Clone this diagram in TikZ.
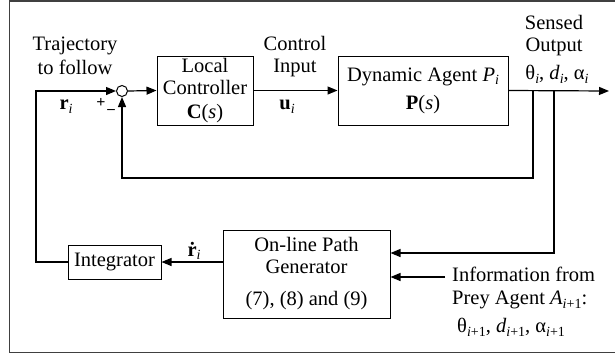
\documentclass[tikz,border=0pt]{standalone}
\usepackage{fontspec}
\setmainfont{Liberation Serif}
\usetikzlibrary{arrows.meta,calc}
\newcommand\sbs[1]{\raisebox{-0.4ex}{\fontsize{14}{14}\selectfont #1}}
\newcommand\sbi{\sbs{\textit{i}}}
\newcommand\sbip{\sbs{\textit{i}+1}}
\begin{document}
\begin{tikzpicture}[x=1pt,y=-1pt,
  txt/.style={font=\fontsize{20.5}{22}\selectfont, inner sep=0pt, align=center},
  blk/.style={txt, draw, line width=1pt},
  conn/.style={line width=1.2pt},
  arr/.style={conn, -{Triangle[length=10pt,width=8pt]}}]
\useasboundingbox (0,0) rectangle (615,356);
\draw[line width=1.5pt, black!75] (617,0.8) -- (9.5,0.8) -- (9.5,352.5) -- (617,352.5);

% blocks
\node[draw, circle, line width=1pt, minimum size=11pt, inner sep=0pt] (sum) at (122,91) {};
\node[blk, minimum width=96pt, minimum height=69pt] (lc) at (205,90.5) {Local\\Controller\\[2pt]\textbf{C}(\textit{s})};
\node[blk, minimum width=170pt, minimum height=69pt] (da) at (423,90.5) {Dynamic Agent \textit{P}\sbi\\[6pt]\textbf{P}(\textit{s})};
\node[blk, minimum width=167pt, minimum height=88pt] (pg) at (306.5,274) {On-line Path\\Generator\\[10pt](7), (8) and (9)};
\node[blk, minimum width=93pt, minimum height=34pt] (int) at (114.5,262) {Integrator};

% labels
\node[txt, font=\fontsize{20.5}{24}\selectfont] (traj) at (75,56) {Trajectory\\to follow};
\node[txt] (rl) at (66,107) {\textbf{r}\sbi};
\node[txt, font=\bfseries\fontsize{16}{16}\selectfont] (plus) at (101,103) {+};
\node[txt, font=\bfseries\fontsize{15}{15}\selectfont] (minus) at (111,110) {\_};
\node[txt, font=\fontsize{20.5}{22}\selectfont] (ci) at (295,57) {Control\\Input};
\node[txt] (ul) at (287,107) {\textbf{u}\sbi};
\node[txt, font=\fontsize{20.5}{22}\selectfont] (so) at (554,36) {Sensed\\Output};
\node[txt] (yl) at (557,74) {θ\sbi, \textit{d}\sbi, α\sbi};
\node[txt] (rd) at (194,251) {\textbf{\.{r}}\sbi};
\node[txt, align=left, anchor=north west] (info) at (452,267) {Information from\\[1pt]Prey Agent \textit{A}\sbip:\\[6pt]\hspace{5pt}θ\sbip, \textit{d}\sbip, α\sbip};

% coordinates
\coordinate (lt) at (36,91);
\coordinate (b1) at (533,91);
\coordinate (b2) at (554,91);
\coordinate (fb) at (122,178);
\coordinate (out) at (609,91);
\coordinate (pgin1) at (pg.east |- 0,253);
\coordinate (pgin2) at (pg.east |- 0,277);
\coordinate (infos) at (445,277);

% connectors
\draw[arr] (int.west) -| (lt) -- (sum.west);
\draw[arr] (sum.east) -- (lc.west);
\draw[arr] (lc.east) -- (da.west);
\draw[arr] (da.east) -- (out);
\draw[arr] (b1) |- (fb) -- (sum.south);
\draw[arr] (b2) |- (pgin1);
\draw[arr] (infos) -- (pgin2);
\draw[arr] (pg.west |- int.east) -- (int.east);
\end{tikzpicture}
\end{document}
